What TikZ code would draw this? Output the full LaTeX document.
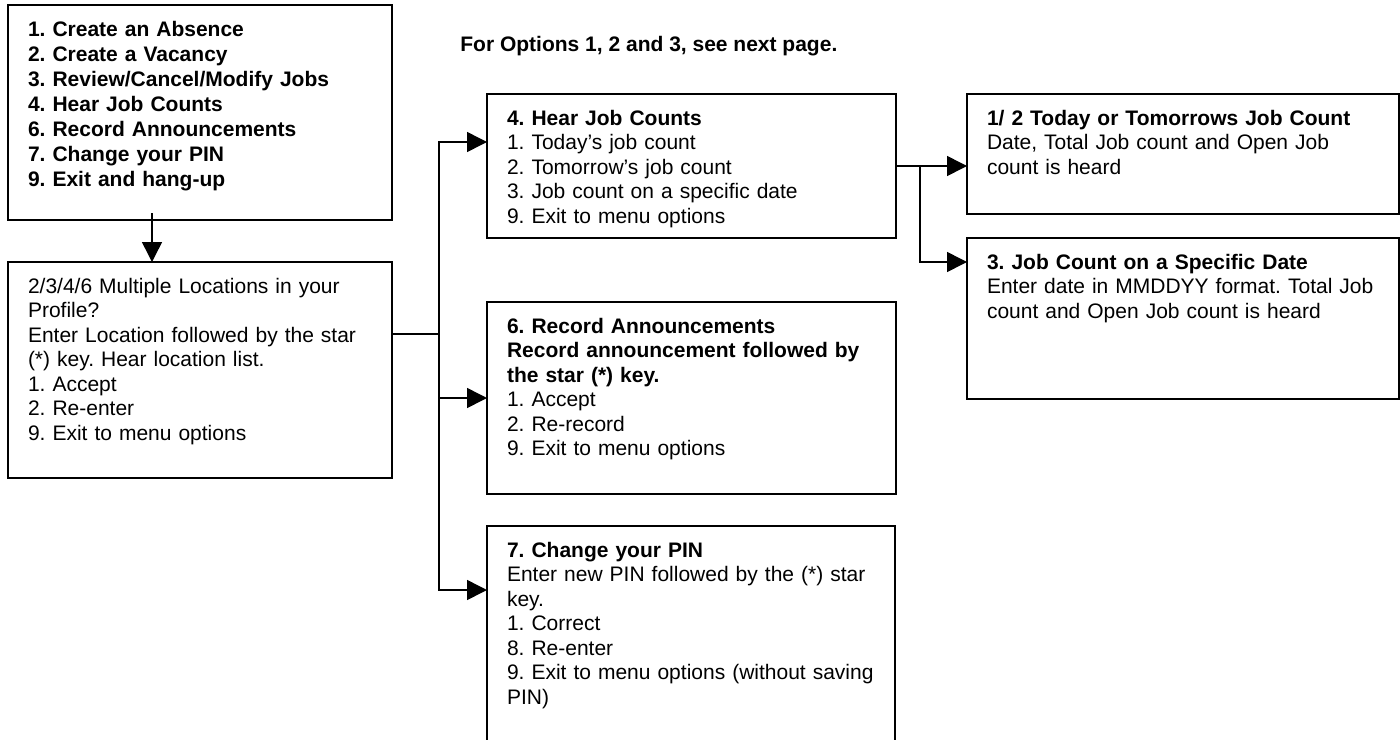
\documentclass[tikz,border=0pt]{standalone}
\usepackage{fontspec}
\setmainfont{Liberation Sans}
\frenchspacing
\usetikzlibrary{arrows.meta,calc}
\begin{document}
\begin{tikzpicture}[x=0.5pt,y=-0.5pt,
  box/.style={draw,line width=1pt,inner sep=0,outer sep=0,anchor=north west},
  txt/.style={anchor=north west,inner sep=0,outer sep=0,align=left,
    font=\fontsize{10.5}{12.25}\selectfont\frenchspacing},
  btxt/.style={txt,font=\fontsize{10.5}{12.5}\selectfont\bfseries\frenchspacing},
  conn/.style={line width=0.75pt},
  arr/.style={conn,-{Triangle[length=10pt,width=10pt]}}]
\useasboundingbox (0,0) rectangle (1400,739);
\clip (0,0) rectangle (1400,739);
% boxes
\node[box,minimum width=192pt,minimum height=107.5pt] (menu) at (8,5) {};
\node[box,minimum width=192pt,minimum height=108pt] (loc) at (8,262) {};
\node[box,minimum width=204.5pt,minimum height=72pt] (hear) at (487,94) {};
\node[box,minimum width=204.5pt,minimum height=96pt] (rec) at (487,302) {};
\node[box,minimum width=204pt,minimum height=130pt] (pin) at (487,526) {};
\node[box,minimum width=215.75pt,minimum height=60pt] (today) at (967,94) {};
\node[box,minimum width=215.75pt,minimum height=80.5pt] (spec) at (967,238) {};
% texts
\node[btxt,text width=180pt] (tmenu) at ($(menu.north west)+(20,13.5)$)
  {\strut 1. Create an Absence\\2. Create a Vacancy\\3. Review/Cancel/Modify Jobs\\4. Hear Job Counts\\6. Record Announcements\\7. Change your PIN\\9. Exit and hang-up};
\node[txt,text width=185pt] (tloc) at ($(loc.north west)+(20,13.85)$)
  {\strut 2/3/4/6 Multiple Locations in your\\Profile?\\Enter Location followed by the star\\(*) key. Hear location list.\\1. Accept\\2. Re-enter\\9. Exit to menu options};
\node[txt,text width=195pt] (thear) at ($(hear.north west)+(20,13.85)$)
  {\strut\textbf{4. Hear Job Counts}\\1. Today’s job count\\2. Tomorrow’s job count\\3. Job count on a specific date\\9. Exit to menu options};
\node[txt,text width=195pt] (trec) at ($(rec.north west)+(20,13.85)$)
  {\strut\textbf{6. Record Announcements}\\\textbf{Record announcement followed by}\\\textbf{the star (*) key.}\\1. Accept\\2. Re-record\\9. Exit to menu options};
\node[txt,text width=195pt] (tpin) at ($(pin.north west)+(20,13.85)$)
  {\strut\textbf{7. Change your PIN}\\Enter new PIN followed by the (*) star\\key.\\1. Correct\\8. Re-enter\\9. Exit to menu options (without saving\\PIN)};
\node[txt,text width=205pt] (ttoday) at ($(today.north west)+(20,13.85)$)
  {\strut\textbf{1/ 2 Today or Tomorrows Job Count}\\Date, Total Job count and Open Job\\count is heard};
\node[txt,text width=205pt] (tspec) at ($(spec.north west)+(20,13.85)$)
  {\strut\textbf{3. Job Count on a Specific Date}\\Enter date in MMDDYY format. Total Job\\count and Open Job count is heard};
\node[anchor=base west,inner sep=0,font=\fontsize{10.5}{12}\selectfont\bfseries\frenchspacing] (note) at (460,51)
  {For Options 1, 2 and 3, see next page.};
% connectors
\coordinate (m1) at ($(menu.south west)+(144,-7)$);
\draw[arr] (m1) -- (m1 |- loc.north);
\coordinate (tr) at ($(loc.north east)+(47,72)$);
\draw[conn] (loc.east |- tr) -- (tr);
\coordinate (hin) at ($(hear.north west)+(0,48)$);
\coordinate (pin_in) at ($(pin.north west)+(0,64)$);
\draw[arr] (tr) |- (hin);
\draw[arr] (tr) |- (rec.west);
\draw[arr] (tr) |- (pin_in);
\coordinate (hout) at ($(hear.north east)+(0,72)$);
\draw[arr] (hout) -- (today.west |- hout);
\coordinate (br) at ($(hout)+(24,0)$);
\coordinate (sin) at ($(spec.north west)+(0,24)$);
\draw[arr] (br) |- (sin);
\end{tikzpicture}
\end{document}
